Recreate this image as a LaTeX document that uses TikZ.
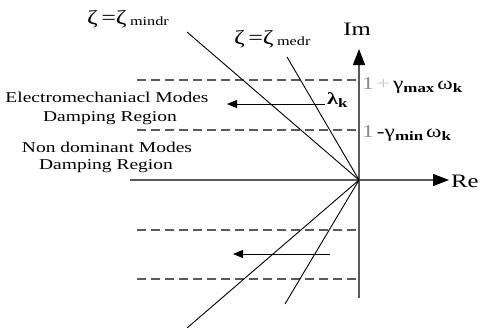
\documentclass[tikz,border=0pt]{standalone}
\usepackage{fontspec}
\setmainfont{Liberation Serif}[FakeStretch=1.3]
\usetikzlibrary{arrows.meta}
\definecolor{axisgray}{HTML}{5A5A5A}
\definecolor{lightnum}{HTML}{8A8A8A}
\definecolor{lightplus}{HTML}{C8C8C8}
\newcommand{\subtx}[1]{\raisebox{-3pt}{\fontsize{13}{13}\selectfont\bfseries #1}}
\begin{document}
\begin{tikzpicture}[x=1pt,y=-1pt,
  axis/.style={draw=axisgray,line width=1.3pt},
  guide/.style={draw=axisgray,line width=1.1pt,dash pattern=on 9pt off 5pt},
  ray/.style={draw=black,line width=0.9pt},
  move/.style={draw=black,line width=1pt,-{Triangle[length=10pt,width=8pt]}},
  lbl/.style={inner sep=0pt,font=\fontsize{15}{15}\selectfont},
  big/.style={inner sep=0pt,font=\fontsize{19}{19}\selectfont},
  zeta/.style={inner sep=0pt,anchor=west,font=\fontsize{20}{20}\selectfont},
  gam/.style={inner sep=0pt,anchor=west,font=\fontsize{18}{18}\selectfont}]
\useasboundingbox (0,0) rectangle (481,327);
% axes
\coordinate (O) at (359,180);
\coordinate (xl) at (130,180);
\coordinate (xr) at (449,180);
\coordinate (yb) at (359,298);
\coordinate (yt) at (359,49);
% dashed guide lines
\coordinate (g1l) at (137,80);  \coordinate (g1r) at (359,80);
\coordinate (g2l) at (137,130); \coordinate (g2r) at (359,130);
\coordinate (g3l) at (137,230); \coordinate (g3r) at (359,230);
\coordinate (g4l) at (137,279); \coordinate (g4r) at (359,279);
\draw[guide] (g1l) -- (g1r);
\draw[guide] (g2l) -- (g2r);
\draw[guide] (g3l) -- (g3r);
\draw[guide] (g4l) -- (g4r);
\draw[axis,-{Triangle[length=16pt,width=12pt,color=black]}] (xl) -- (xr);
\draw[axis,-{Triangle[length=16pt,width=12pt,color=black]}] (yb) -- (yt);
% damping rays
\coordinate (r1) at (187,32);
\coordinate (r2) at (287,57);
\coordinate (r3) at (187,328);
\coordinate (r4) at (285,304);
\draw[ray] (O) -- (r1);
\draw[ray] (O) -- (r2);
\draw[ray] (O) -- (r3);
\draw[ray] (O) -- (r4);
% arrows
\coordinate (a1s) at (325,104); \coordinate (a1e) at (227,104);
\coordinate (a2s) at (330,254); \coordinate (a2e) at (233,254);
\draw[move] (a1s) -- (a1e);
\draw[move] (a2s) -- (a2e);
% labels
\node[big,anchor=center] (im) at (357,29) {Im};
\node[big,anchor=west] (re) at (451,181) {Re};
\node[zeta] (z1) at (87,19) {ζ\,=ζ\,\raisebox{-1pt}{\fontsize{12.5}{12.5}\selectfont mindr}};
\node[zeta] (z2) at (234,39) {ζ\,=ζ\,\raisebox{-1pt}{\fontsize{12.5}{12.5}\selectfont medr}};
\node[gam] (gmax) at (362,85) {\textcolor{lightnum}{1}\,\textcolor{lightplus}{+}\,γ\subtx{max}\,ω\subtx{k}};
\node[gam] (gmin) at (362,133) {\textcolor{lightnum}{1}\,-γ\subtx{min}\,ω\subtx{k}};
\node[inner sep=0pt,anchor=west,font=\fontsize{17}{17}\selectfont\bfseries] (lam) at (327,100) {λ\subtx{k}};
\node[lbl] (em1) at (107,97) {Electromechaniacl Modes};
\node[lbl] (em2) at (110,118) {Damping Region};
\node[lbl] (nd1) at (107,147) {Non dominant Modes};
\node[lbl] (nd2) at (106,166) {Damping Region};
\end{tikzpicture}
\end{document}
